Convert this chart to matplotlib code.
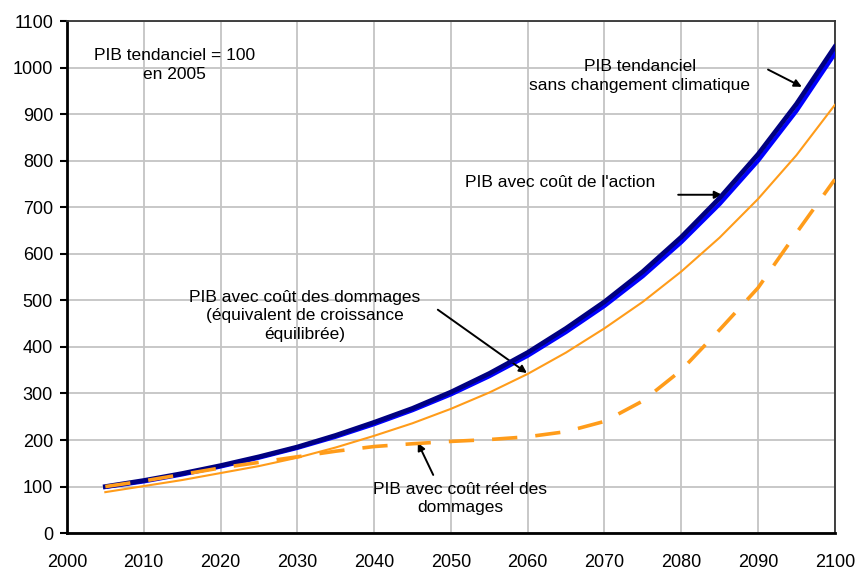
import numpy as np
import matplotlib.pyplot as plt

# ========== Données ==========
annees = [2005, 2010, 2015, 2020, 2025, 2030, 2035, 2040, 2045, 2050,
          2055, 2060, 2065, 2070, 2075, 2080, 2085, 2090, 2095, 2100]

pib_tendanciel = [100, 113, 128, 145, 164, 185, 210, 238, 268, 303,
                  343, 388, 440, 497, 562, 636, 720, 814, 922, 1045]
pib_action = [99, 111, 126, 143, 162, 183, 207, 234, 264, 298,
              337, 381, 432, 488, 552, 625, 707, 800, 907, 1030]
pib_dommages = [88, 101, 114, 129, 144, 162, 184, 209, 236, 267,
                302, 342, 388, 440, 497, 562, 635, 718, 812, 920]
pib_reel = [100, 112, 126, 140, 152, 164, 176, 186, 192, 197,
            201, 207, 218, 240, 284, 350, 437, 527, 645, 760]

x_ticks = list(range(2000, 2101, 10))
y_ticks = list(range(0, 1101, 100))

# ========== Visualisation ==========
plt.rcParams['font.family'] = ['Liberation Sans', 'DejaVu Sans']
fig = plt.figure(figsize=(8.58, 5.72), dpi=100)
ax = fig.add_axes([0.078, 0.068, 0.895, 0.895])

ax.plot(annees, pib_tendanciel, color='#000080', lw=3.4, zorder=4)
ax.plot(annees, pib_action, color='#0000ff', lw=3.0, zorder=3)
ax.plot(annees, pib_dommages, color='#ff9c1a', lw=1.5, zorder=3)
ax.plot(annees, pib_reel, color='#ff9c1a', lw=2.6, dashes=(7, 5), zorder=5)

ax.set_xlim(2000, 2100)
ax.set_ylim(0, 1100)
ax.set_xticks(x_ticks)
ax.set_yticks(y_ticks)
ax.grid(True, color='#c4c4c4', lw=1.3)
ax.set_axisbelow(True)

for side in ['left', 'bottom']:
    ax.spines[side].set_linewidth(2)
for side in ['top', 'right']:
    ax.spines[side].set_linewidth(1.3)
    ax.spines[side].set_color('#333333')

ax.tick_params(axis='y', length=5, width=1.5, labelsize=13, pad=5)
ax.tick_params(axis='x', length=0, labelsize=13, pad=15)

fs = 12.5
ls = 1.3
arrow = dict(arrowstyle='-|>', color='black', lw=1.4, mutation_scale=11,
             shrinkA=0, shrinkB=0)

ax.text(2014, 1006, "PIB tendanciel = 100\nen 2005", ha='center', va='center',
        fontsize=fs, linespacing=ls)

ax.text(2074.6, 982, "PIB tendanciel\nsans changement climatique", ha='center',
        va='center', fontsize=fs, linespacing=ls)
ax.annotate("", xy=(2095.7, 959), xytext=(2091.3, 996), arrowprops=arrow)

ax.text(2064.2, 753, "PIB avec coût de l'action", ha='center', va='center',
        fontsize=fs)
ax.annotate("", xy=(2085.3, 727), xytext=(2079.6, 727), arrowprops=arrow)

ax.text(2031, 467, "PIB avec coût des dommages\n(équivalent de croissance\néquilibrée)",
        ha='center', va='center', fontsize=fs, linespacing=ls)
ax.annotate("", xy=(2059.9, 344), xytext=(2048.3, 480), arrowprops=arrow)

ax.text(2051.2, 74, "PIB avec coût réel des\ndommages", ha='center', va='center',
        fontsize=fs, linespacing=ls)
ax.annotate("", xy=(2045.7, 194), xytext=(2047.7, 125), arrowprops=arrow)

fig.savefig('out.png', dpi=100)
